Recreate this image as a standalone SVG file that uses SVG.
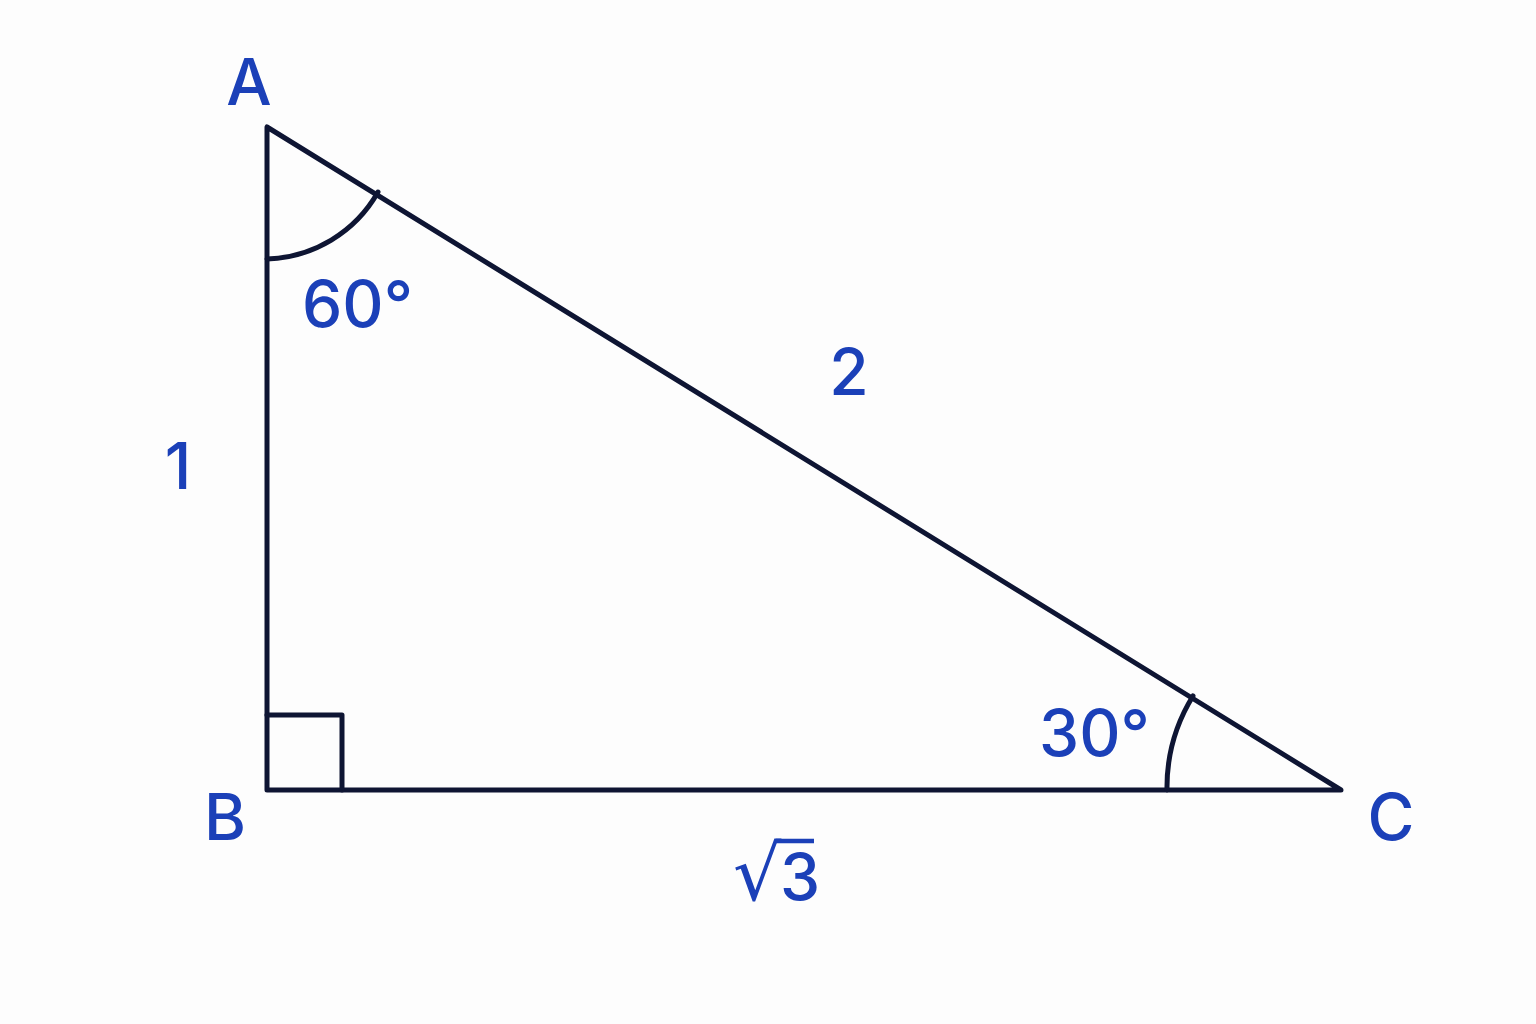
<svg xmlns="http://www.w3.org/2000/svg" width="1536" height="1024" viewBox="0 0 1536 1024">
<style>
.ln{fill:none;stroke:#0e1533;stroke-width:5;stroke-linejoin:round;stroke-linecap:round}
.t{font-family:Inter,"Liberation Sans",Arial,sans-serif;font-size:64px;font-weight:500;fill:#1b40b8}
</style>
<rect width="1536" height="1024" fill="#fdfdfd"/>
<g id="connectors">
<path class="ln" d="M267 127 L267 790 L1341 790 Z"/>
<path class="ln" d="M267 715 L342 715 L342 790"/>
<path class="ln" d="M267 259 A132 132 0 0 0 378 192"/>
<path class="ln" d="M1167 790 A174 174 0 0 1 1193 696"/>
</g>
<g id="A"><text class="t" x="249" y="105" text-anchor="middle">A</text></g>
<g id="B"><text class="t" x="225" y="840" text-anchor="middle">B</text></g>
<g id="C"><text class="t" x="1391" y="840" text-anchor="middle">C</text></g>
<g id="side1"><text class="t" x="178" y="489" text-anchor="middle">1</text></g>
<g id="side2"><text class="t" x="849" y="395" text-anchor="middle">2</text></g>
<g id="sideroot3"><text class="t" x="733" y="900" style="font-size:76px;font-family:'DejaVu Sans',sans-serif;font-weight:400">√</text><text class="t" x="780" y="900">3</text><line x1="776" y1="841" x2="814" y2="841" stroke="#1b40b8" stroke-width="4.5"/></g>
<g id="angA"><text class="t" x="302" y="327">60°</text></g>
<g id="angC"><text class="t" x="1039" y="756">30°</text></g>
</svg>
